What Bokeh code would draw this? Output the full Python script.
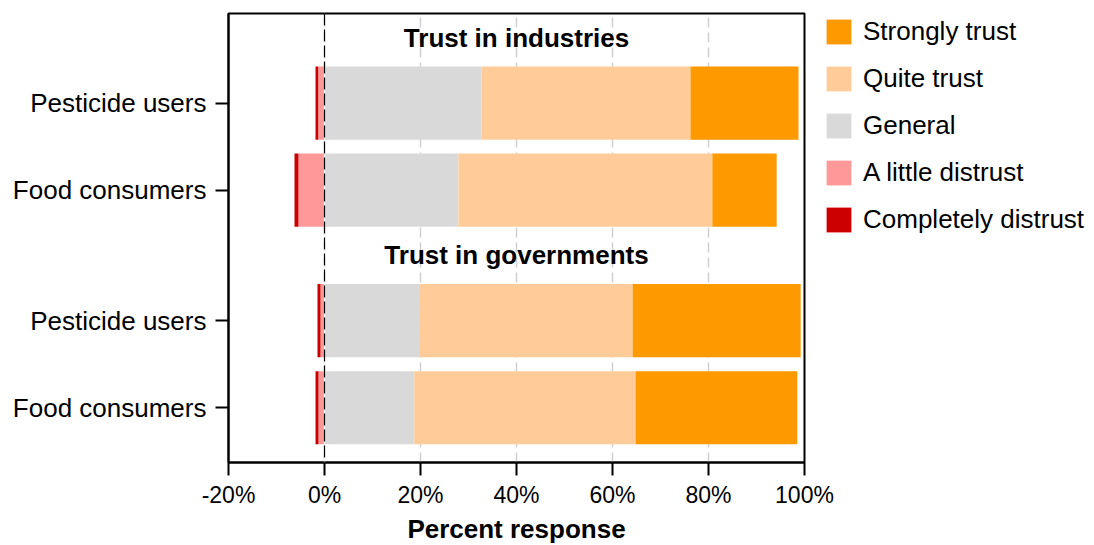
from bokeh.plotting import figure
from bokeh.models import (ColumnDataSource, Range1d, FixedTicker, Legend,
                          LegendItem, Span)
from bokeh.core.properties import value
from bokeh.embed import file_html
from bokeh.resources import INLINE

# ---------------- data ----------------
groups = ["Trust in industries", "Trust in governments"]
respondents = ["Pesticide users", "Food consumers"]
# rows: industries/pesticide, industries/food, governments/pesticide, governments/food
completely_distrust = [0.56, 0.83, 0.63, 0.62]
little_distrust = [1.31, 5.42, 0.83, 1.25]
general = [32.7, 27.9, 19.9, 18.7]
quite_trust = [43.55, 52.9, 44.3, 46.1]
strongly_trust = [22.5, 13.4, 35.0, 33.7]
x_ticks = [-20, 0, 20, 40, 60, 80, 100]
x_tick_labels = ["-20%", "0%", "20%", "40%", "60%", "80%", "100%"]
legend_labels = ["Strongly trust", "Quite trust", "General",
                 "A little distrust", "Completely distrust"]

# ---------------- layout parameters ----------------
FONT = "Liberation Sans"
colors = {
    "strongly": "#FF9900",
    "quite": "#FFCC99",
    "general": "#D9D9D9",
    "little": "#FF9999",
    "completely": "#CC0000",
}
row_step = 1.0
group_gap = 1.5
bottom_pad = 0.63
top_pad = 1.03
bar_height = 0.84
heading_offset = 0.75

n_groups = len(groups)
n_rows = len(respondents)
ys, labels, heading_y = [], [], []
top_y = bottom_pad + (n_groups * n_rows - n_groups) * row_step + (n_groups - 1) * group_gap
for g in range(n_groups):
    gy = top_y - g * ((n_rows - 1) * row_step + group_gap)
    heading_y.append(round(gy + heading_offset, 4))
    for r in range(n_rows):
        ys.append(round(gy - r * row_step, 4))
        labels.append(respondents[r])
y_max = top_y + top_pad

source = ColumnDataSource(dict(
    y=ys,
    general=general,
    quite=quite_trust,
    strongly=strongly_trust,
    neg_little=[-v for v in little_distrust],
    neg_completely=[-v for v in completely_distrust],
))

p = figure(frame_width=576, frame_height=449,
           x_range=Range1d(-20, 100), y_range=Range1d(0, y_max),
           output_backend="svg", toolbar_location=None,
           min_border_left=228, min_border_top=13, min_border_right=282,
           min_border_bottom=70)
p.background_fill_color = "white"
p.border_fill_color = "white"
p.outline_line_color = "black"
p.outline_line_width = 2

pos = p.hbar_stack(["general", "quite", "strongly"], y="y", height=bar_height,
                   color=[colors["general"], colors["quite"], colors["strongly"]],
                   line_color=None, source=source)
neg = p.hbar_stack(["neg_little", "neg_completely"], y="y", height=bar_height,
                   color=[colors["little"], colors["completely"]],
                   line_color=None, source=source)

# zero line
p.add_layout(Span(location=0, dimension="height", line_color="white",
                  line_width=1.2, level="overlay"))
p.add_layout(Span(location=0, dimension="height", line_color="black",
                  line_width=1.2, line_dash="12 4", level="overlay"))

# headings
p.text(x=[40] * n_groups, y=heading_y, text=groups,
       text_font=value(FONT), text_font_size="26px", text_font_style="bold",
       text_align="center", text_baseline="middle", text_color="black")

# axes
p.xaxis.ticker = FixedTicker(ticks=x_ticks)
p.xaxis.major_label_overrides = {t: l for t, l in zip(x_ticks, x_tick_labels)}
p.xaxis.axis_label = "Percent response"
p.xaxis.axis_label_text_font = FONT
p.xaxis.axis_label_text_font_size = "26px"
p.xaxis.axis_label_text_font_style = "bold"
p.xaxis.axis_label_standoff = 3
p.xaxis.major_label_text_font = FONT
p.xaxis.major_label_text_font_size = "23px"
p.xaxis.major_label_standoff = 6

p.yaxis.ticker = FixedTicker(ticks=ys)
p.yaxis.major_label_overrides = {y: l for y, l in zip(ys, labels)}
p.yaxis.major_label_text_font = FONT
p.yaxis.major_label_text_font_size = "26px"
p.yaxis.major_label_standoff = 9

for ax in (p.xaxis[0], p.yaxis[0]):
    ax.axis_line_color = "black"
    ax.axis_line_width = 2
    ax.major_tick_line_color = "black"
    ax.major_tick_line_width = 2
    ax.major_tick_in = 0
    ax.major_tick_out = 13
    ax.minor_tick_line_color = None
    ax.major_label_text_color = "black"
    ax.axis_label_text_color = "black"

p.ygrid.grid_line_color = None
p.xgrid.grid_line_color = "#D0D0D0"
p.xgrid.grid_line_width = 1.5
p.xgrid.grid_line_dash = "10 5"

items = [
    LegendItem(label=legend_labels[0], renderers=[pos[2]]),
    LegendItem(label=legend_labels[1], renderers=[pos[1]]),
    LegendItem(label=legend_labels[2], renderers=[pos[0]]),
    LegendItem(label=legend_labels[3], renderers=[neg[0]]),
    LegendItem(label=legend_labels[4], renderers=[neg[1]]),
]
legend = Legend(items=items, location=(19, 227), orientation="vertical",
                glyph_width=31, glyph_height=31, label_height=25,
                label_standoff=9, spacing=16, padding=0, margin=0,
                border_line_color=None, background_fill_alpha=0,
                label_text_font=FONT, label_text_font_size="26px",
                label_text_color="black")
p.add_layout(legend, "right")

open("out.html", "w").write(file_html(p, INLINE))
